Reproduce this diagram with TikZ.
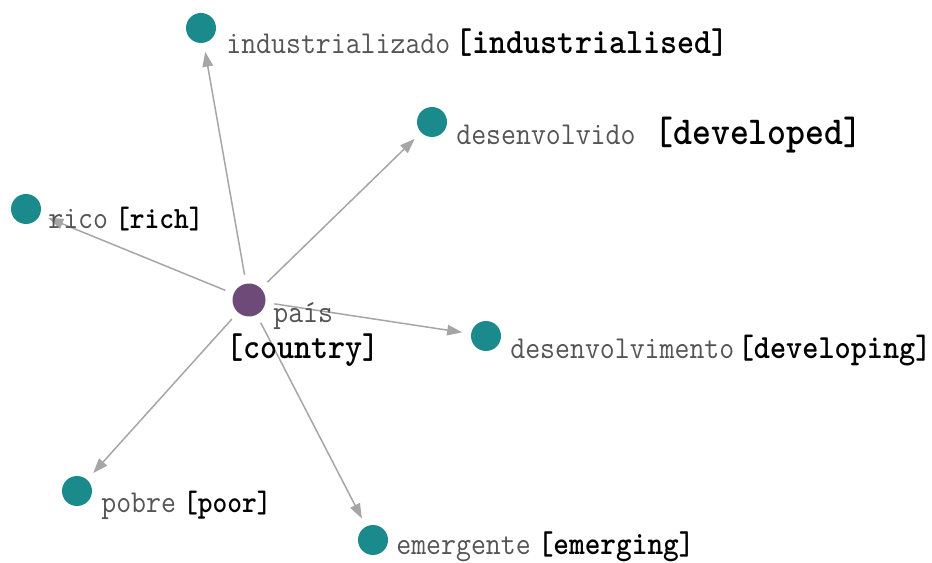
\documentclass[tikz,border=0pt]{standalone}
\usetikzlibrary{arrows.meta}

\definecolor{wordteal}{HTML}{1B8A8C}
\definecolor{rootpurple}{HTML}{6E4A78}
\definecolor{linkgray}{HTML}{A6A6A6}
\definecolor{ptgray}{HTML}{555555}

% portuguese word in gray, english gloss in bold black
\newcommand{\gloss}[3][16pt]{\scalebox{1}[1.1]{{\color{ptgray}#2}\fontsize{#1}{#1}\selectfont\bfseries#3}}

\tikzset{
  word/.style={circle,fill=wordteal,minimum size=.6cm,inner sep=0pt},
  root/.style={circle,fill=rootpurple,minimum size=.66cm,inner sep=0pt},
  lbl/.style={anchor=west,inner sep=0pt,font=\ttfamily\fontsize{16.5pt}{18pt}\selectfont},
  link/.style={draw=linkgray,line width=.85pt,-{Triangle[length=8.5pt,width=6pt]},
    shorten >=5pt,shorten <=5pt}
}

\begin{document}
\begin{tikzpicture}[x=.02cm,y=-.02cm]
\useasboundingbox[fill=white] (0,0) rectangle (932,563);

\node[root] (pais)  at (249,300) {};
\node[word] (ind)   at (201,28)  {};
\node[word] (desd)  at (432,122) {};
\node[word] (rico)  at (26,209)  {};
\node[word] (desm)  at (486,336) {};
\node[word] (pobre) at (77,491)  {};
\node[word] (emerg) at (373,540) {};

\foreach \t in {ind,desd,rico,desm,pobre,emerg} {
    \draw[link] (pais) -- (\t);
}

\node[lbl] (l-ind)   at (226,43)  {\gloss[18.5pt]{industrializado}{\kern3pt[industrialised]}};
\node[lbl] (l-desd)  at (456,135) {\gloss[20.5pt]{desenvolvido}{ [developed]}};
\node[lbl] (l-rico)  at (48,219)  {\gloss[16pt]{rico}{\kern4pt[rich]}};
\node[lbl] (l-pais)  at (273,316) {\gloss{país}{}};
\node[lbl] (l-ctry)  at (226,350) {\gloss[18.5pt]{}{[country]}};
\node[lbl] (l-desm)  at (510,351) {\gloss[17.5pt]{desenvolvimento}{\kern2pt[developing]}};
\node[lbl] (l-pobre) at (101,505) {\gloss[16pt]{pobre}{\kern4pt[poor]}};
\node[lbl] (l-emerg) at (396,547) {\gloss[17pt]{emergente}{\kern4pt[emerging]}};

\end{tikzpicture}
\end{document}
